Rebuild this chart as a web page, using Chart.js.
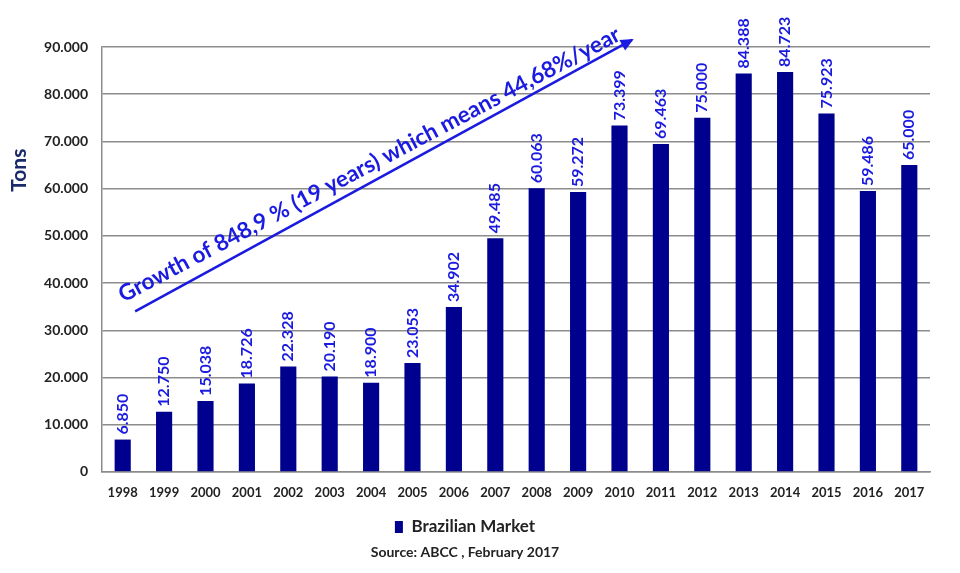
<!DOCTYPE html>
<html>
<head>
<meta charset="utf-8">
<script src="https://cdn.jsdelivr.net/npm/chart.js@4/dist/chart.umd.min.js"></script>
<style>
  body { margin: 0; background: #fff; }
</style>
</head>
<body>
<canvas id="brChart" width="960" height="573"></canvas>
<script>
var years = ['1998', '1999', '2000', '2001', '2002', '2003', '2004', '2005', '2006', '2007',
    '2008', '2009', '2010', '2011', '2012', '2013', '2014', '2015', '2016', '2017'];
var tons = [6850, 12750, 15038, 18726, 22328, 20190, 18900, 23053, 34902, 49485,
    60063, 59272, 73399, 69463, 75000, 84388, 84723, 75923, 59486, 65000];
var growthText = 'Growth of 848,9 % (19 years) which means 44,68%/year';
var sourceText = 'Source: ABCC , February 2017';

var barBlue = '#00008f';
var labelBlue = '#1a1ae0';

function fmt(n) {
    return String(n).replace(/\B(?=(\d{3})+(?!\d))/g, '.');
}

// value labels, rotated, above each bar
var valueLabels = {
    id: 'valueLabels',
    afterDatasetsDraw: function (chart) {
        var ctx = chart.ctx;
        var meta = chart.getDatasetMeta(0);
        ctx.save();
        ctx.fillStyle = labelBlue;
        ctx.font = 'bold 16px Lato';
        meta.data.forEach(function (bar, i) {
            ctx.save();
            ctx.translate(bar.x, bar.y - 5);
            ctx.rotate(-Math.PI / 2);
            ctx.textAlign = 'left';
            ctx.textBaseline = 'middle';
            ctx.fillText(fmt(tons[i]), 0, 0);
            ctx.restore();
        });
        ctx.restore();
    }
};

// growth arrow + text, anchored on the scales
var growthArrow = {
    id: 'growthArrow',
    afterDraw: function (chart) {
        var ctx = chart.ctx;
        var x = chart.scales.x, y = chart.scales.y;
        var x0 = x.getPixelForValue(0.3), y0 = y.getPixelForValue(34000);
        var x1 = x.getPixelForValue(12.3), y1 = y.getPixelForValue(91500);
        var ang = Math.atan2(y1 - y0, x1 - x0);
        ctx.save();
        ctx.strokeStyle = labelBlue;
        ctx.fillStyle = labelBlue;
        ctx.lineWidth = 2.5;
        ctx.beginPath();
        ctx.moveTo(x0, y0);
        ctx.lineTo(x1, y1);
        ctx.stroke();
        // head
        ctx.translate(x1, y1);
        ctx.rotate(ang);
        ctx.beginPath();
        ctx.moveTo(2, 0);
        ctx.lineTo(-11, -6);
        ctx.lineTo(-11, 6);
        ctx.closePath();
        ctx.fill();
        ctx.restore();

        // text along the arrow, a touch flatter than the arrow
        var len = Math.hypot(x1 - x0, y1 - y0) - 2;
        var size = 22;
        ctx.save();
        ctx.font = 'bold ' + size + 'px Lato';
        var w = ctx.measureText(growthText).width;
        size = size * len / w;
        ctx.font = 'bold ' + size + 'px Lato';
        ctx.fillStyle = labelBlue;
        ctx.translate(x0, y0);
        ctx.rotate(ang);
        ctx.translate(-6, -13);
        ctx.rotate(0.014);
        ctx.textAlign = 'left';
        ctx.textBaseline = 'alphabetic';
        ctx.fillText(growthText, 0, 0);
        ctx.restore();
    }
};

// rotated y title "Tons"
var tonsTitle = {
    id: 'tonsTitle',
    afterDraw: function (chart) {
        var ctx = chart.ctx;
        var a = chart.chartArea;
        ctx.save();
        ctx.translate(19, a.top + (a.bottom - a.top) * 0.29);
        ctx.rotate(-Math.PI / 2);
        ctx.font = 'bold 21px Lato';
        ctx.fillStyle = '#1b2a68';
        ctx.textAlign = 'center';
        ctx.textBaseline = 'middle';
        ctx.fillText('Tons', 0, 0);
        ctx.restore();
    }
};

var config = {
    type: 'bar',
    data: {
        labels: years,
        datasets: [{
            label: 'Brazilian Market',
            data: tons,
            backgroundColor: barBlue,
            borderWidth: 0,
            barPercentage: 0.39,
            categoryPercentage: 1.0
        }]
    },
    options: {
        responsive: false,
        animation: false,
        layout: { padding: { left: 0, right: 30, top: 47, bottom: 13.5 } },
        plugins: {
            legend: {
                position: 'bottom',
                labels: {
                    boxWidth: 8,
                    boxHeight: 12,
                    padding: 5,
                    color: '#222',
                    font: { family: 'Lato', size: 17, weight: 'bold' }
                }
            },
            subtitle: {
                display: true,
                position: 'bottom',
                text: sourceText,
                color: '#222',
                font: { family: 'Lato', size: 14, weight: 'bold', lineHeight: 1.0 },
                padding: { top: 0, bottom: 0 }
            },
            tooltip: { enabled: false }
        },
        scales: {
            x: {
                grid: { display: false, drawTicks: false },
                border: { color: '#8c8c8c', width: 1.5 },
                ticks: {
                    padding: 13,
                    color: '#222',
                    font: { family: 'Lato', size: 13, weight: 'bold' }
                }
            },
            y: {
                min: 0,
                max: 90000,
                afterFit: function (scale) { scale.width = 102; },
                grid: { color: '#8c8c8c', lineWidth: 1.5, drawTicks: false },
                border: { color: '#8c8c8c', width: 1.5 },
                ticks: {
                    stepSize: 10000,
                    padding: 14,
                    color: '#222',
                    font: { family: 'Lato', size: 14, weight: 'bold' },
                    callback: function (v) { return fmt(v); }
                }
            }
        }
    },
    plugins: [valueLabels, growthArrow, tonsTitle]
};

var brChart = new Chart(document.getElementById('brChart'), config);
</script>
</body>
</html>
